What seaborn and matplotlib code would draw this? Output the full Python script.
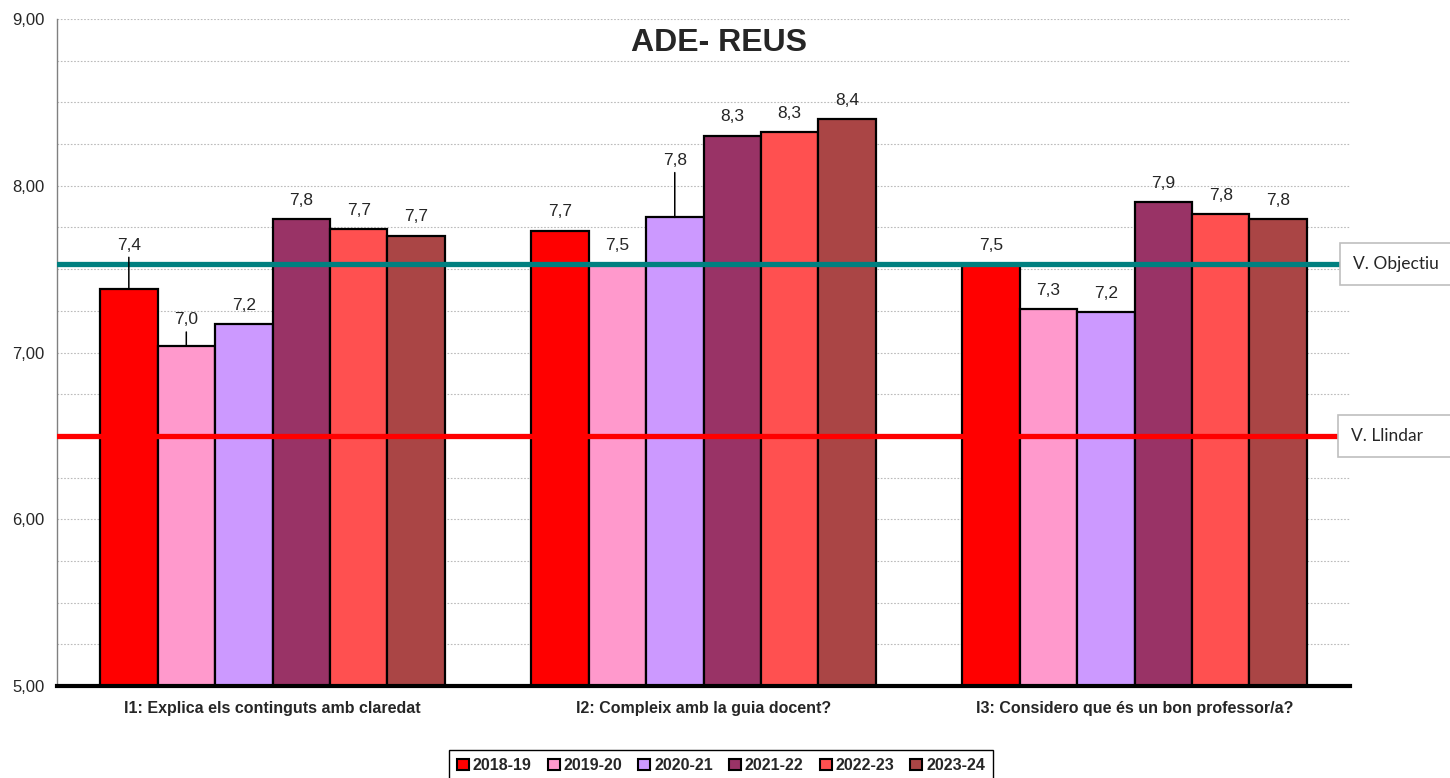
import pandas as pd
import matplotlib
matplotlib.use("Agg")
import matplotlib.pyplot as plt
import matplotlib.transforms as mtransforms
from matplotlib.ticker import MultipleLocator, FuncFormatter
from matplotlib import font_manager
import seaborn as sns

categories = ["I1: Explica els continguts amb claredat",
              "I2: Compleix amb la guia docent?",
              "I3: Considero que és un bon professor/a?"]
years = ["2018-19", "2019-20", "2020-21", "2021-22", "2022-23", "2023-24"]

v_2018_19 = [7.38, 7.73, 7.53]
v_2019_20 = [7.04, 7.53, 7.26]
v_2020_21 = [7.17, 7.81, 7.24]
v_2021_22 = [7.80, 8.30, 7.90]
v_2022_23 = [7.74, 8.32, 7.83]
v_2023_24 = [7.70, 8.40, 7.80]

v_objectiu = 7.53
v_llindar = 6.5

colors = ["#FF0000", "#FF99CC", "#CC99FF", "#993366", "#FF5050", "#AA4545"]

rows = []
for year, vals in zip(years, [v_2018_19, v_2019_20, v_2020_21, v_2021_22, v_2022_23, v_2023_24]):
    for cat, v in zip(categories, vals):
        rows.append({"categoria": cat, "curs": year, "valor": v})
df = pd.DataFrame(rows)

sns.set_style("white")
names = {f.name for f in font_manager.fontManager.ttflist}
narrow = "Liberation Sans Narrow" if "Liberation Sans Narrow" in names else "Liberation Sans"
plt.rcParams["font.family"] = ["Liberation Sans", "DejaVu Sans"]

fig = plt.figure(figsize=(14.5, 7.78), dpi=100)
ax = fig.add_axes([57 / 1450, 1 - 686 / 778, 1293 / 1450, 667 / 778])

sns.barplot(data=df, x="categoria", y="valor", hue="curs", palette=colors,
            order=categories, hue_order=years, width=0.8, saturation=1,
            edgecolor="black", linewidth=1.6, ax=ax, legend=True)

ax.set_ylim(5, 9)
ax.set_xlim(-0.5, 2.5)
ax.yaxis.set_major_locator(MultipleLocator(1))
ax.yaxis.set_minor_locator(MultipleLocator(0.25))
ax.yaxis.set_major_formatter(FuncFormatter(lambda v, p: f"{v:.2f}".replace(".", ",")))
ax.grid(axis="y", which="both", linestyle=(0, (1.5, 1.5)), color="#BBBBBB", linewidth=0.8)
ax.set_axisbelow(True)

ax.set_xticks([-0.5, 0.5, 1.5, 2.5])
ax.set_xticklabels([])
ax.set_xticks([0, 1, 2], minor=True)
ax.set_xticklabels(categories, minor=True, fontsize=11.5, fontweight="bold", family=narrow)
ax.tick_params(axis="x", which="major", direction="out", length=5, width=3, color="black")
ax.tick_params(axis="x", which="minor", length=0, pad=11)
ax.tick_params(axis="y", which="major", direction="out", length=5, width=1, color="#808080",
               labelsize=12, pad=4)
ax.tick_params(axis="y", which="minor", length=0)
ax.set_xlabel("")
ax.set_ylabel("")

for s in ["top", "right"]:
    ax.spines[s].set_visible(False)
ax.spines["left"].set_color("#808080")
ax.spines["left"].set_linewidth(1)
ax.spines["bottom"].set_color("black")
ax.spines["bottom"].set_linewidth(3)

# reference lines
ax.axhline(v_objectiu, color="#008080", linewidth=3.8, zorder=4)
ax.axhline(v_llindar, color="#FF0000", linewidth=3.8, zorder=4)

trans = mtransforms.blended_transform_factory(ax.transAxes, ax.transData)
box = dict(boxstyle="square,pad=0.75", facecolor="white", edgecolor="#BFBFBF", linewidth=1.2)
ax.text(1.002, v_objectiu, "V. Objectiu   ", transform=trans, ha="left", va="center",
        fontsize=12.5, family=["Lato", "DejaVu Sans"], bbox=box, zorder=6, clip_on=False)
ax.text(1.001, v_llindar, "V. Llindar     ", transform=trans, ha="left", va="center",
        fontsize=12.5, family=["Lato", "DejaVu Sans"], bbox=box, zorder=6, clip_on=False)

# value labels (offset of the label centre above the bar, in px)
leaders = {(0, 0): 44, (1, 0): 26, (2, 1): 57}
for hi, cont in enumerate(ax.containers):
    for ci, bar in enumerate(cont):
        x = bar.get_x() + bar.get_width() / 2
        h = bar.get_height()
        txt = f"{h:.1f}".replace(".", ",")
        off = leaders.get((hi, ci), 19)
        arrow = dict(arrowstyle="-", color="black", lw=1.1, shrinkA=1, shrinkB=0) if (hi, ci) in leaders else None
        ax.annotate(txt, xy=(x, h), xytext=(0, off * 0.72), textcoords="offset points",
                    ha="center", va="center", fontsize=12.5, arrowprops=arrow, zorder=7)

fig.text(719 / 1450, 1 - 43 / 778, "ADE- REUS", ha="center", va="center",
         fontsize=23, fontweight="bold")

handles, labels = ax.get_legend_handles_labels()
ax.get_legend().remove()
leg = fig.legend(handles, labels, loc="upper center", bbox_to_anchor=(721 / 1450, 1 - 742 / 778),
                 ncol=6, frameon=True, fancybox=False, edgecolor="black", framealpha=1,
                 handlelength=0.75, handleheight=0.75, handletextpad=0.25, columnspacing=1.0,
                 borderpad=0.5, prop={"family": narrow, "weight": "bold", "size": 11.5})
leg.get_frame().set_linewidth(1)
for p in leg.get_patches():
    p.set_edgecolor("black")
    p.set_linewidth(1.5)

fig.savefig("out.png", dpi=100)
